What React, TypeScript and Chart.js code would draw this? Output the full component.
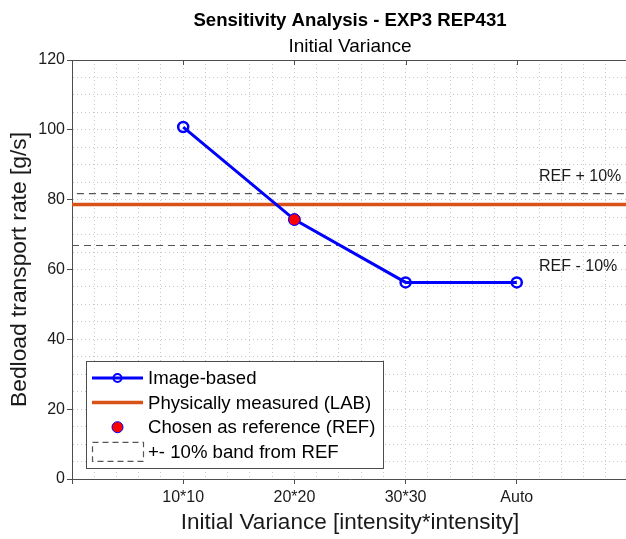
import React, { useEffect, useRef } from 'react';
import { Chart, registerables } from 'chart.js';

Chart.register(...registerables);

// ---------- data ----------
const categories = ['10*10', '20*20', '30*30', 'Auto'];
const categoryPositions = [1, 2, 3, 4];
const imageBased = [100.8, 74.3, 56.3, 56.3];
const labMeasured = 78.6;
const refIndex = 1;
const bandFraction = 0.1;
const xRange = [0, 5];
const yRange = [0, 120];
const yMajorStep = 20;
const seriesLabels = [
  'Image-based',
  'Physically measured (LAB)',
  'Chosen as reference (REF)',
  '+- 10% band from REF',
];
const bandTextLabels = ['REF + 10%', 'REF - 10%'];
const bandTextX = 4.2;
const bandTextOffsets = [5, -6];
const titleText = 'Sensitivity Analysis - EXP3 REP431';
const subtitleText = 'Initial Variance';
const xTitle = 'Initial Variance [intensity*intensity]';
const yTitle = 'Bedload transport rate [g/s]';

// ---------- styles ----------
const FONT = "'Liberation Sans', Arial, Helvetica, sans-serif";
const BLUE = '#0000ff';
const ORANGE = '#d95319';
const RED = '#ff0000';
const BAND = '#555555';
const GRID = '#c8c8c8';
const AXIS = '#4d4d4d';
const TEXT = '#1a1a1a';

const refValue = imageBased[refIndex];
const upperBand = refValue * (1 + bandFraction);
const lowerBand = refValue * (1 - bandFraction);

const isInt = (v: number) => Math.abs(v - Math.round(v)) < 1e-6;

const decorPlugin = {
  id: 'decor',
  afterDraw(chart: any) {
    const { ctx, chartArea: a, scales } = chart;
    const xs = scales.x;
    const ys = scales.y;
    ctx.save();
    // top border
    ctx.strokeStyle = AXIS;
    ctx.lineWidth = 1;
    ctx.setLineDash([]);
    ctx.beginPath();
    ctx.moveTo(a.left, Math.round(a.top) + 0.5);
    ctx.lineTo(a.right, Math.round(a.top) + 0.5);
    ctx.stroke();
    // top inward ticks
    for (let v = xRange[0]; v <= xRange[1]; v++) {
      const px = Math.round(xs.getPixelForValue(v)) + 0.5;
      ctx.beginPath();
      ctx.moveTo(px, a.top);
      ctx.lineTo(px, a.top + 5);
      ctx.stroke();
    }

    // titles
    const cx = (a.left + a.right) / 2;
    ctx.fillStyle = '#000';
    ctx.textAlign = 'center';
    ctx.textBaseline = 'alphabetic';
    ctx.font = `bold 18.6px ${FONT}`;
    ctx.fillText(titleText, cx, 26);
    ctx.font = `19px ${FONT}`;
    ctx.fillText(subtitleText, cx, 52);

    // band labels
    ctx.font = `16px ${FONT}`;
    ctx.fillStyle = TEXT;
    ctx.textAlign = 'left';
    ctx.textBaseline = 'middle';
    const bandVals = [upperBand, lowerBand];
    bandTextLabels.forEach((t, i) => {
      ctx.fillText(
        t,
        xs.getPixelForValue(bandTextX),
        ys.getPixelForValue(bandVals[i] + bandTextOffsets[i])
      );
    });

    // legend
    const L = a.left + 14;
    const T = a.bottom - 118;
    const R = L + 297;
    const B = a.bottom - 11;
    ctx.fillStyle = '#ffffff';
    ctx.fillRect(L, T, R - L, B - T);
    ctx.strokeStyle = AXIS;
    ctx.lineWidth = 1;
    ctx.strokeRect(Math.round(L) + 0.5, Math.round(T) + 0.5, R - L, B - T);
    const rowY = (i: number) => T + 17 + i * 24.6;
    const sx0 = L + 6;
    const sx1 = L + 57;
    const smid = (sx0 + sx1) / 2;
    // row 0
    ctx.strokeStyle = BLUE;
    ctx.lineWidth = 3;
    ctx.beginPath();
    ctx.moveTo(sx0, rowY(0));
    ctx.lineTo(sx1, rowY(0));
    ctx.stroke();
    ctx.lineWidth = 2;
    ctx.beginPath();
    ctx.arc(smid, rowY(0), 4, 0, Math.PI * 2);
    ctx.stroke();
    // row 1
    ctx.strokeStyle = ORANGE;
    ctx.lineWidth = 3.5;
    ctx.beginPath();
    ctx.moveTo(sx0, rowY(1));
    ctx.lineTo(sx1, rowY(1));
    ctx.stroke();
    // row 2
    ctx.fillStyle = RED;
    ctx.strokeStyle = BLUE;
    ctx.lineWidth = 1;
    ctx.beginPath();
    ctx.arc(smid, rowY(2), 5.5, 0, Math.PI * 2);
    ctx.fill();
    ctx.stroke();
    // row 3
    ctx.strokeStyle = BAND;
    ctx.lineWidth = 1.2;
    ctx.setLineDash([6, 4]);
    ctx.strokeRect(sx0 + 0.5, rowY(3) - 9.5, sx1 - sx0, 19);
    ctx.setLineDash([]);
    // texts
    ctx.fillStyle = '#000';
    ctx.font = `18.6px ${FONT}`;
    ctx.textAlign = 'left';
    ctx.textBaseline = 'middle';
    seriesLabels.forEach((t, i) => ctx.fillText(t, L + 62, rowY(i) + 1));
    ctx.restore();
  },
};

export default function App() {
  const ref = useRef<HTMLCanvasElement | null>(null);

  useEffect(() => {
    document.body.style.margin = '0';
    const canvas = ref.current;
    if (!canvas) return;

    const blueData = categoryPositions.map((x, i) => ({ x, y: imageBased[i] }));
    const labData = [
      { x: xRange[0], y: labMeasured },
      { x: xRange[1], y: labMeasured },
    ];
    const refData = [{ x: categoryPositions[refIndex], y: refValue }];
    const bandData = [
      { x: xRange[0], y: lowerBand },
      { x: xRange[1], y: lowerBand },
      { x: xRange[1], y: upperBand },
      { x: xRange[0], y: upperBand },
      { x: xRange[0], y: lowerBand },
    ];

    const chart = new Chart(canvas, {
      type: 'scatter',
      data: {
        datasets: [
          {
            label: seriesLabels[0],
            data: blueData,
            showLine: true,
            borderColor: BLUE,
            borderWidth: 3,
            pointRadius: 5,
            pointBorderWidth: 2.5,
            pointBackgroundColor: 'rgba(0,0,0,0)',
            pointBorderColor: BLUE,
            order: 2,
          },
          {
            label: seriesLabels[1],
            data: labData,
            showLine: true,
            borderColor: ORANGE,
            borderWidth: 3.5,
            pointRadius: 0,
            order: 3,
          },
          {
            label: seriesLabels[2],
            data: refData,
            showLine: false,
            pointRadius: 5.8,
            pointBorderWidth: 1,
            pointBackgroundColor: RED,
            pointBorderColor: BLUE,
            order: 1,
          },
          {
            label: seriesLabels[3],
            data: bandData,
            showLine: true,
            borderColor: BAND,
            borderWidth: 1.2,
            borderDash: [7, 5],
            pointRadius: 0,
            order: 4,
          },
        ],
      } as any,
      options: {
        responsive: false,
        animation: false,
        devicePixelRatio: 1,
        layout: { padding: { top: 60, left: 0, right: 12, bottom: 0 } },
        plugins: {
          legend: { display: false },
          tooltip: { enabled: false },
          title: { display: false },
        },
        scales: {
          x: {
            type: 'linear',
            min: xRange[0],
            max: xRange[1],
            afterFit: (s: any) => {
              s.height = 60;
            },
            ticks: {
              stepSize: 0.2,
              maxTicksLimit: 100,
              autoSkip: false,
              maxRotation: 0,
              padding: 4,
              color: TEXT,
              font: { family: FONT, size: 16 },
              callback: (v: any) => {
                const n = Number(v);
                if (!isInt(n)) return '';
                const i = categoryPositions.indexOf(Math.round(n));
                return i >= 0 ? categories[i] : '';
              },
            },
            grid: {
              color: GRID,
              lineWidth: 1,
              tickLength: 5,
              tickColor: (c: any) => (c.tick && isInt(c.tick.value) ? AXIS : 'rgba(0,0,0,0)'),
            },
            border: { display: true, color: AXIS, width: 1, dash: [1, 3] },
            title: {
              display: true,
              text: xTitle,
              color: TEXT,
              font: { family: FONT, size: 22.5 },
              padding: { top: 0, bottom: 3 },
            },
          },
          y: {
            type: 'linear',
            min: yRange[0],
            max: yRange[1],
            afterFit: (s: any) => {
              s.width = 72;
            },
            ticks: {
              stepSize: 5,
              maxTicksLimit: 100,
              autoSkip: false,
              padding: 2,
              color: TEXT,
              font: { family: FONT, size: 16 },
              callback: (v: any) => {
                const n = Number(v);
                return isInt(n / yMajorStep) ? String(Math.round(n)) : '';
              },
            },
            grid: {
              color: GRID,
              lineWidth: 1,
              tickLength: 5,
              tickColor: (c: any) =>
                c.tick && isInt(c.tick.value / yMajorStep) ? AXIS : 'rgba(0,0,0,0)',
            },
            border: { display: true, color: AXIS, width: 1, dash: [1, 3] },
            title: {
              display: true,
              text: yTitle,
              color: TEXT,
              font: { family: FONT, size: 22.8 },
              padding: { top: 6, bottom: 0 },
            },
          },
        },
      } as any,
      plugins: [decorPlugin],
    });

    return () => chart.destroy();
  }, []);

  return (
    <div
      style={{
        position: 'fixed',
        left: 0,
        top: 0,
        width: 626,
        height: 539,
        overflow: 'hidden',
        background: '#fff',
      }}
    >
      <canvas ref={ref} width={640} height={539} style={{ display: 'block' }} />
    </div>
  );
}
